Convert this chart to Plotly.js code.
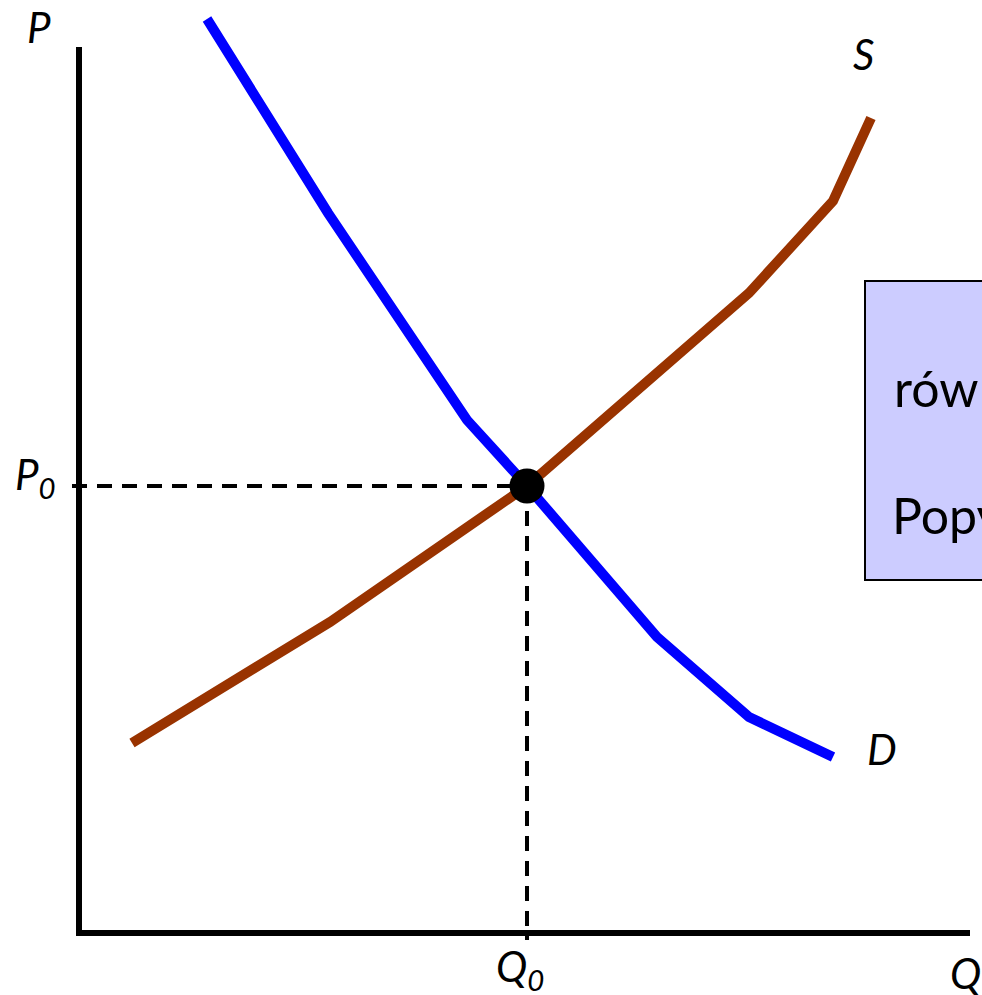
<!DOCTYPE html>
<html>
<head>
<meta charset="utf-8">
<script src="https://cdn.plot.ly/plotly-3.0.1.min.js"></script>
<style>html,body{margin:0;padding:0;background:#fff;overflow:hidden}#chart{width:982px;height:995px}</style>
</head>
<body>
<div id="chart"></div>
<script>
// Demand curve (quantity, price)
const demandQ = [128, 249, 388, 448, 578, 670, 754];
const demandP = [914, 720, 513, 447, 296, 216, 176];
// Supply curve
const supplyQ = [53, 251, 448, 572, 670, 754, 792];
const supplyP = [190, 311, 447, 555, 640, 732, 815];
// Equilibrium
const eqQ = [448];
const eqP = [447];
// Labels
const labelP = "P", labelQ = "Q", labelS = "S", labelD = "D";
const labelP0 = "P<sub>0</sub>", labelQ0 = "Q<sub>0</sub>";
const boxText1 = "rów", boxText2 = "Popyt";

const FONT = "Lato, 'Open Sans', sans-serif";

const traces = [
  {x: demandQ, y: demandP, mode: 'lines', line: {color: '#0000ff', width: 10}, hoverinfo: 'skip'},
  {x: supplyQ, y: supplyP, mode: 'lines', line: {color: '#993300', width: 10}, hoverinfo: 'skip'},
  {x: [-7, eqQ[0]], y: [eqP[0], eqP[0]], mode: 'lines', line: {color: '#000', width: 4, dash: '15px,10px'}, hoverinfo: 'skip'},
  {x: [eqQ[0], eqQ[0]], y: [eqP[0], -7], mode: 'lines', line: {color: '#000', width: 4, dash: '15px,10px'}, hoverinfo: 'skip'},
  {x: eqQ, y: eqP, mode: 'markers', marker: {color: '#000', size: 35}, hoverinfo: 'skip'}
];

const shapes = [
  {type: 'line', xref: 'x', yref: 'y', x0: 0, x1: 0, y0: -3, y1: 886, line: {color: '#000', width: 6}},
  {type: 'line', xref: 'x', yref: 'y', x0: -3, x1: 891, y0: 0, y1: 0, line: {color: '#000', width: 6}},
  {type: 'rect', xref: 'x', yref: 'y', x0: 786, x1: 1000, y0: 353, y1: 652, fillcolor: '#ccccff', line: {color: '#000', width: 2}, layer: 'below'}
];

function ann(x, y, text, size, xanchor) {
  return {x: x, y: y, xref: 'x', yref: 'y', text: text, showarrow: false,
    xanchor: xanchor || 'center', yanchor: 'middle', font: {family: FONT, size: size, color: '#000'}};
}

const annotations = [
  ann(-40, 906, '<i>' + labelP + '</i>', 42),
  ann(-44, 456, '<i>' + labelP0 + '</i>', 42),
  ann(441, -36, '<i>' + labelQ0 + '</i>', 42),
  ann(886, -40, '<i>' + labelQ + '</i>', 42),
  ann(784, 879, '<i>' + labelS + '</i>', 42),
  ann(803, 184, '<i>' + labelD + '</i>', 42),
  ann(813, 545, boxText1, 50, 'left'),
  ann(811, 418, boxText2, 50, 'left')
];

const layout = {
  width: 982, height: 995,
  margin: {l: 0, r: 0, t: 0, b: 0, pad: 0},
  paper_bgcolor: '#fff', plot_bgcolor: '#fff',
  showlegend: false,
  xaxis: {range: [-79, 903], visible: false, fixedrange: true},
  yaxis: {range: [-62, 933], visible: false, fixedrange: true},
  shapes: shapes,
  annotations: annotations
};

Plotly.newPlot('chart', traces, layout, {displayModeBar: false, staticPlot: true});
</script>
</body>
</html>
